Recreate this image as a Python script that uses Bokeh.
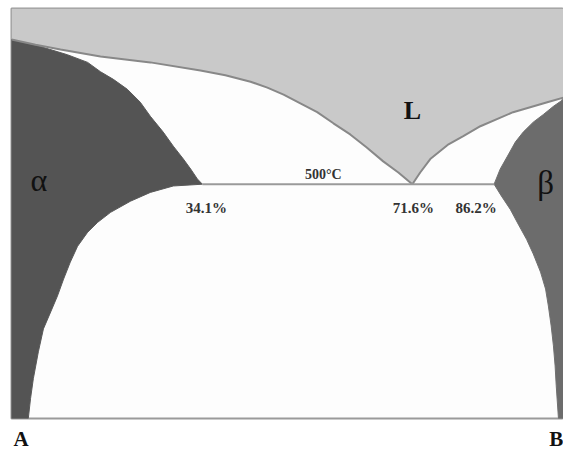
from bokeh.plotting import figure
from bokeh.models import Range1d, FixedTicker
from bokeh.embed import file_html
from bokeh.resources import INLINE

# Composition in % B, temperature in °C
liq_left_x = [0, 4.3, 8.75, 15.9, 24.8, 33.75, 38.2, 42.7, 45.7, 48.6, 51.6, 54.6,
              57.5, 60.5, 63.4, 66.4, 69.1, 71.6]
liq_left_t = [747, 738, 730, 718, 708, 694, 686, 675, 665, 653, 638, 623,
              604, 585, 563, 539, 520, 500]

liq_right_x = [71.6, 73.0, 74.8, 77.9, 80.7, 83.75, 89.6, 95.7, 98.6, 100]
liq_right_t = [500, 520, 543, 567, 582, 599, 623, 640, 648, 652]

sol_alpha_x = [0, 5.2, 10.0, 13.6, 15.9, 18.2, 20.7, 23.0, 24.8, 27.1, 28.9,
               30.7, 32.0, 33.2, 34.1]
sol_alpha_t = [747, 735, 721, 708, 692, 679, 662, 640, 616, 589, 565,
               543, 526, 509, 500]

solv_alpha_x = [34.1, 28.9, 24.8, 21.25, 17.7, 15.4, 13.6, 11.8, 10.5, 9.3, 8.2,
                7.0, 5.7, 4.8, 3.9, 3.4, 3.0]
solv_alpha_t = [500, 497, 486, 471, 452, 435, 418, 394, 367, 338, 309,
                282, 253, 214, 168, 134, 100]

sol_beta_x = [86.2, 87.3, 88.6, 90.0, 91.4, 93.2, 95.0, 96.8, 98.6, 100]
sol_beta_t = [500, 526, 548, 572, 589, 606, 619, 633, 645, 652]

solv_beta_x = [86.2, 87.5, 89.1, 90.5, 92.0, 93.2, 94.5, 95.4, 95.9, 96.4, 96.8,
               97.1, 97.3, 97.7]
solv_beta_t = [500, 480, 457, 432, 406, 381, 350, 321, 292, 258, 224,
               190, 156, 100]

eutectic_t = 500
eutectic_x = [34.1, 71.6, 86.2]
eutectic_labels = ["34.1%", "71.6%", "86.2%"]

component_pos = [1.7, 97.3]
component_names = ["A", "B"]

T_MIN, T_MAX = 100, 800

p = figure(width=563, height=453, output_backend="svg", toolbar_location=None,
           x_range=Range1d(0, 98.6), y_range=Range1d(T_MIN, T_MAX),
           min_border_left=11, min_border_right=0, min_border_top=8,
           min_border_bottom=34)
p.yaxis.visible = False
p.grid.visible = False
p.background_fill_color = "#fdfdfd"
p.border_fill_color = "#ffffff"
p.outline_line_color = "#9a9a9a"
p.outline_line_width = 2

# pure components named under the composition axis
xa = p.xaxis[0]
xa.ticker = FixedTicker(ticks=component_pos)
xa.major_label_overrides = {component_pos[0]: component_names[0],
                            component_pos[1]: component_names[1]}
xa.axis_line_color = None
xa.major_tick_line_color = None
xa.minor_tick_line_color = None
xa.major_tick_in = 0
xa.major_tick_out = 0
xa.major_label_standoff = 8
xa.major_label_text_font = "Liberation Serif"
xa.major_label_text_font_style = "bold"
xa.major_label_text_font_size = "21px"
xa.major_label_text_color = "#111111"

# liquid region
lx = [0] + liq_left_x + liq_right_x[1:] + [100, 0]
lt = [T_MAX] + liq_left_t + liq_right_t[1:] + [T_MAX, T_MAX]
p.patch(lx, lt, fill_color="#c9c9c9", line_color=None)

# alpha solid solution
ax = sol_alpha_x + solv_alpha_x[1:] + [0]
at = sol_alpha_t + solv_alpha_t[1:] + [T_MIN]
p.patch(ax, at, fill_color="#545454", line_color="#5a5a5a", line_width=1)

# beta solid solution
bx = sol_beta_x[::-1] + solv_beta_x[1:] + [100]
bt = sol_beta_t[::-1] + solv_beta_t[1:] + [T_MIN]
p.patch(bx, bt, fill_color="#6c6c6c", line_color="#707070", line_width=1)

# liquidus curves and eutectic isotherm
p.line(liq_left_x, liq_left_t, line_color="#888888", line_width=2)
p.line(liq_right_x, liq_right_t, line_color="#888888", line_width=2)
p.line([eutectic_x[0], eutectic_x[-1]], [eutectic_t, eutectic_t],
       line_color="#9a9a9a", line_width=2)

p.text(x=[71.6], y=[626], text=["L"], text_font_size="26px", text_font_style="bold",
       text_font="Liberation Serif", text_align="center", text_baseline="alphabetic",
       text_color="#111111")
p.text(x=[55.7], y=[517], text=["500°C"], text_font_size="14px", text_font_style="bold",
       text_font="Liberation Serif", text_align="center", text_baseline="alphabetic",
       text_color="#333333")
p.text(x=[34.8, 71.8, 83.0], y=[459, 459, 459], text=eutectic_labels,
       text_font_size="15px", text_font_style="bold", text_font="Liberation Serif",
       text_align="center", text_baseline="alphabetic", text_color="#333333")
p.text(x=[3.4], y=[507], text=["α"], text_font_size="32px", text_font="Liberation Sans",
       text_align="left", text_baseline="alphabetic", text_color="#111111")
p.text(x=[93.9], y=[502], text=["β"], text_font_size="33px", text_font="Liberation Sans",
       text_align="left", text_baseline="alphabetic", text_color="#111111")

open("out.html", "w").write(file_html(p, INLINE))
